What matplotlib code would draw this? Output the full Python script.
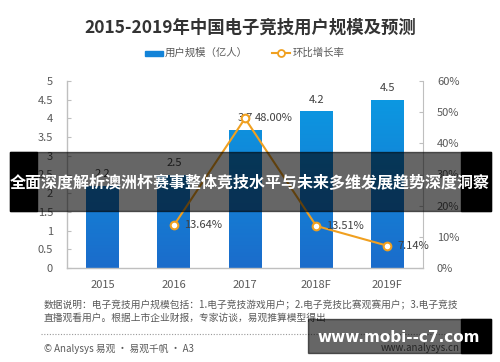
import matplotlib
matplotlib.use("Agg")
import matplotlib.pyplot as plt
import numpy as np
from matplotlib.patches import Rectangle
from matplotlib.lines import Line2D
from matplotlib.colors import LinearSegmentedColormap

plt.rcParams['font.family'] = ['Noto Sans CJK SC', 'DejaVu Sans']

categories = ["2015", "2016", "2017", "2018F", "2019F"]
users = [2.2, 2.5, 3.7, 4.2, 4.5]
growth_idx = [1, 2, 3, 4]
growth = [13.64, 48.00, 13.51, 7.14]
left_ticks = [0, 0.5, 1, 1.5, 2, 2.5, 3, 3.5, 4, 4.5, 5]
right_ticks = [0, 10, 20, 30, 40, 50, 60]

title = "2015-2019年中国电子竞技用户规模及预测"
banner = "全面深度解析澳洲杯赛事整体竞技水平与未来多维发展趋势深度洞察"
note1 = "数据说明：电子竞技用户规模包括：1.电子竞技游戏用户；2.电子竞技比赛观赛用户；3.电子竞技"
note2 = "直播观看用户。根据上市企业财报，专家访谈，易观推算模型得出"
footer = "© Analysys 易观 · 易观千帆 · A3"
site = "www.analysys.cn"
mark = "www.mobi--c7.com"

W, H = 500, 362
fig = plt.figure(figsize=(5, 3.62), dpi=100)
fig.patch.set_facecolor("white")

def fx(px): return px / W
def fy(py): return 1 - py / H

grey = "#595959"
dark = "#404040"
orange = "#F0A020"

ax = fig.add_axes([fx(67), fy(268), fx(423) - fx(67), fy(81) - fy(268)])
x = np.arange(len(categories))
bw = 0.46
cmap = LinearSegmentedColormap.from_list("b", ["#1B6CCB", "#0A9DE4"])
grad = np.linspace(0, 1, 256).reshape(-1, 1)
bars = ax.bar(x, users, width=bw, color="none", zorder=2)
for b, v in zip(bars, users):
    im = ax.imshow(grad, cmap=cmap, origin="lower", aspect="auto",
                   extent=[b.get_x(), b.get_x() + bw, 0, 5], zorder=2)
    im.set_clip_path(b)
    ax.text(b.get_x() + bw / 2, v + 0.17, f"{v}", ha="center", va="bottom",
            fontsize=8, color=dark, zorder=3)
ax.set_xlim(-0.5, 4.5)
ax.set_ylim(0, 5)
ax.set_yticks(left_ticks)
ax.set_yticklabels([f"{t:g}" for t in left_ticks])
ax.set_xticks(x)
ax.set_xticklabels(categories)
ax.tick_params(axis="y", direction="in", length=3, color="#BFBFBF", labelsize=8, labelcolor=grey, pad=10)
ax.tick_params(axis="x", length=0, labelsize=8, labelcolor=grey, pad=9)
for s in ["top", "right"]:
    ax.spines[s].set_visible(False)
for s in ["left", "bottom"]:
    ax.spines[s].set_color("#BFBFBF")
    ax.spines[s].set_linewidth(1)

ax2 = ax.twinx()
ax2.set_ylim(0, 60)
ax2.set_yticks(right_ticks)
ax2.set_yticklabels([f"{t}%" for t in right_ticks])
ax2.tick_params(axis="y", direction="in", length=3, color="#BFBFBF", labelsize=8, labelcolor=grey, pad=10)
for s in ["top", "left", "bottom"]:
    ax2.spines[s].set_visible(False)
ax2.spines["right"].set_color("#BFBFBF")
ax2.plot(growth_idx, growth, color=orange, lw=1.5, marker="o", ms=5.5,
         mfc="white", mec=orange, mew=1.5, zorder=4)
for gi, g in zip(growth_idx, growth):
    ax2.text(gi + 0.14, g, f"{g:.2f}%", ha="left", va="center", fontsize=8, color=dark, zorder=5)

# title & legend
fig.text(0.5, fy(28), title, ha="center", va="center", fontsize=12.5,
         fontweight="bold", color="#333333")
fig.patches.append(Rectangle((fx(145), fy(56)), fx(18), 5 / H, transform=fig.transFigure,
                             color="#1383D8"))
fig.text(fx(165), fy(53), "用户规模（亿人）", ha="left", va="center", fontsize=7.5, color=grey)
fig.lines.append(Line2D([fx(272), fx(290)], [fy(53), fy(53)], transform=fig.transFigure,
                        color=orange, lw=1.5))
fig.lines.append(Line2D([fx(281)], [fy(53)], transform=fig.transFigure, marker="o", ms=5,
                        mfc="white", mec=orange, mew=1.3))
fig.text(fx(293), fy(53), "环比增长率", ha="left", va="center", fontsize=7.5, color=grey)

# notes
fig.text(fx(44), fy(305), note1, ha="left", va="center", fontsize=7.0, color=grey)
fig.text(fx(44), fy(318), note2, ha="left", va="center", fontsize=7.0, color=grey)
fig.lines.append(Line2D([fx(41), fx(462)], [fy(334), fy(334)], transform=fig.transFigure,
                        color="#999999", lw=0.8, ls=(0, (1, 1.5))))
fig.text(fx(44), fy(349), footer, ha="left", va="center", fontsize=7, color=grey)
fig.text(fx(460), fy(348), site, ha="right", va="center", fontsize=7, color=grey)

# banner overlay
fig.patches.append(Rectangle((fx(10), fy(211)), fx(481), (211 - 152) / H,
                             transform=fig.transFigure, color="black", alpha=0.6, zorder=10))
fig.patches.append(Rectangle((fx(10), fy(211)), fx(27), (211 - 152) / H,
                             transform=fig.transFigure, color="black", zorder=10))
fig.patches.append(Rectangle((fx(461), fy(211)), fx(30), (211 - 152) / H,
                             transform=fig.transFigure, color="black", zorder=10))
fig.text(0.5, fy(183), banner, ha="center", va="center", fontsize=11.5,
         fontweight="bold", color="white", zorder=11)

# bottom watermark
fig.patches.append(Rectangle((fx(308), fy(353)), fx(183), (353 - 319) / H,
                             transform=fig.transFigure, color="black", alpha=0.6, zorder=10))
fig.patches.append(Rectangle((fx(461), fy(353)), fx(30), (353 - 319) / H,
                             transform=fig.transFigure, color="black", zorder=10))
fig.text(fx(399), fy(337), mark, ha="center", va="center", fontsize=11,
         fontweight="bold", color="white", family=["DejaVu Sans"], zorder=11)

fig.savefig("out.png", dpi=100, facecolor="white")
